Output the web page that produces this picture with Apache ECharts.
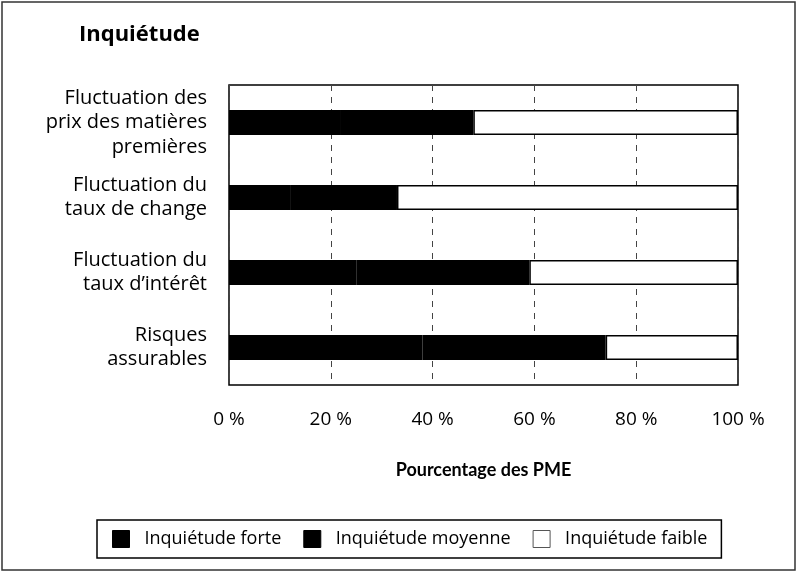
<!DOCTYPE html>
<html>
<head>
<meta charset="utf-8">
<script src="https://cdn.jsdelivr.net/npm/echarts@6/dist/echarts.min.js"></script>
<style>
  html, body { margin: 0; padding: 0; background: #fff; }
  #chart { width: 798px; height: 576px; }
</style>
</head>
<body>
<div id="chart"></div>
<script>
var categories = [
    'Fluctuation des\nprix des matières\npremières',
    'Fluctuation du\ntaux de change',
    'Fluctuation du\ntaux d\u2019intérêt',
    'Risques\nassurables'
];
var forte = [22, 12, 25, 38];
var moyenne = [26, 21, 34, 36];
var faible = [52, 67, 41, 26];
var tickLabels = ['0 %', '20 %', '40 %', '60 %', '80 %', '100 %'];

var font = '"Open Sans", Lato, sans-serif';
var myChart = echarts.init(document.getElementById('chart'));
var option = {
    backgroundColor: '#fff',
    animation: false,
    textStyle: { fontFamily: font, color: '#000' },
    title: {
        text: 'Inquiétude',
        left: 74,
        top: 19,
        textStyle: { fontSize: 22, fontWeight: 'bold', color: '#000', fontFamily: font }
    },
    legend: {
        bottom: 18,
        left: 97,
        data: [
            { name: 'Inquiétude forte', itemStyle: { color: '#000', borderColor: '#000', borderWidth: 1 } },
            { name: 'Inquiétude moyenne', itemStyle: { color: '#000', borderColor: '#000', borderWidth: 1 } },
            { name: 'Inquiétude faible', itemStyle: { color: '#fff', borderColor: '#555', borderWidth: 1 } }
        ],
        icon: 'rect',
        itemWidth: 17,
        itemHeight: 17,
        itemGap: 22,
        padding: [10, 14, 10, 15],
        borderColor: '#000',
        borderWidth: 1.5,
        textStyle: { fontSize: 18, color: '#000', fontFamily: font, padding: [0, 0, 0, 10] }
    },
    grid: {
        left: 229,
        right: 60,
        top: 85,
        bottom: 191,
        show: true,
        borderColor: '#000',
        borderWidth: 1.5,
        containLabel: false
    },
    xAxis: {
        type: 'value',
        min: 0,
        max: 100,
        interval: 20,
        name: 'Pourcentage des PME',
        nameLocation: 'middle',
        nameGap: 76,
        nameTextStyle: { fontSize: 18, fontWeight: 'bold', color: '#000', fontFamily: 'Lato, sans-serif' },
        axisLine: { show: false },
        axisTick: { show: false },
        axisLabel: {
            margin: 25,
            fontSize: 19,
            color: '#000',
            formatter: function (v) { return tickLabels[v / 20]; }
        },
        splitLine: { show: true, lineStyle: { color: '#444', type: [6, 6], width: 1 } }
    },
    yAxis: {
        type: 'category',
        inverse: true,
        data: categories,
        axisLine: { show: false },
        axisTick: { show: false },
        axisLabel: {
            margin: 22,
            fontSize: 20,
            lineHeight: 24.5,
            align: 'right',
            color: '#000'
        }
    },
    series: [
        {
            name: 'Inquiétude forte', type: 'bar', stack: 'total', data: forte, barWidth: 25,
            itemStyle: { color: '#000' }
        },
        {
            name: 'Inquiétude moyenne', type: 'bar', stack: 'total', data: moyenne, barWidth: 25,
            itemStyle: { color: '#000' }
        },
        {
            name: 'Inquiétude faible', type: 'bar', stack: 'total', data: faible, barWidth: 25,
            itemStyle: { color: '#fff', borderColor: '#000', borderWidth: 1.5 }
        }
    ],
    graphic: [
        {
            type: 'rect',
            shape: { x: 2, y: 2, width: 793, height: 568 },
            style: { fill: null, stroke: '#333', lineWidth: 1.5 },
            silent: true,
            z: -1
        }
    ]
};
myChart.setOption(option);
</script>
</body>
</html>
